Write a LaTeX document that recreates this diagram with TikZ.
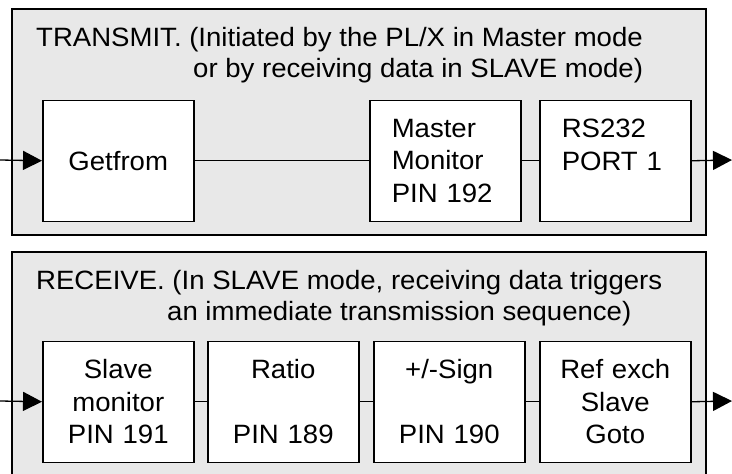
\documentclass[tikz,border=0pt]{standalone}
\usepackage{fontspec}
\setmainfont{Liberation Sans}[FakeStretch=1.04]
\usetikzlibrary{arrows.meta}
\definecolor{panelgray}{HTML}{E8E8E8}
\tikzset{
  panel/.style={fill=panelgray, draw=black, line width=1.5pt},
  blk/.style={draw=black, fill=white, line width=1.5pt, minimum width=151pt, minimum height=121pt,
    anchor=north west, inner sep=0pt, font=\fontsize{26.5}{32.5}\selectfont},
  blkl/.style={blk, align=left, text width=107pt},
  blkc/.style={blk, align=center, text width=140pt},
  hdr/.style={anchor=base west, inner sep=0pt, font=\fontsize{26.5}{31}\selectfont},
  conn/.style={draw=black, line width=1.3pt},
  arr/.style={conn, -{Triangle[length=19pt,width=19pt]}}
}
\begin{document}
\begin{tikzpicture}[x=1pt,y=-1pt]
\useasboundingbox (0,0) rectangle (732,474);
% panels
\fill[panelgray] (12,9) rectangle (706,235);
\draw[line width=1.5pt] (12,9) rectangle (706,235);
\fill[panelgray] (12,252) rectangle (706,480);
\draw[line width=1.5pt] (12,480) -- (12,252) -- (706,252) -- (706,480);
% headers
\node[hdr] (h1) at (36,46.7) {TRANSMIT. (Initiated by the PL/X in Master mode};
\node[hdr] (h2) at (193,77) {or by receiving data in SLAVE mode)};
\node[hdr] (h3) at (36,289) {RECEIVE. (In SLAVE mode, receiving data triggers};
\node[hdr] (h4) at (167,320) {an immediate transmission sequence)};
% transmit boxes
\node[blk] (get) at (42,99.5) {Getfrom};
\node[blkl] (mm) at (369,99.5) {Master\\Monitor\\PIN 192};
\node[blkl] (rs) at (539,99.5) {RS232\\PORT 1\\\mbox{}};
\coordinate (tin) at (0,160);
\coordinate (tout) at (732,160);
\draw[arr] (tin) -- (get.west);
\draw[conn] (get.east) -- (mm.west);
\draw[conn] (mm.east) -- (rs.west);
\draw[arr] (rs.east) -- (tout);
% receive boxes
\node[blkc] (sm) at (42,340.5) {Slave\\monitor\\PIN 191};
\node[blkc] (ra) at (207,340.5) {Ratio\\\mbox{}\\PIN 189};
\node[blkc] (sg) at (373,340.5) {+/-Sign\\\mbox{}\\PIN 190};
\node[blkc] (rf) at (539,340.5) {Ref exch\\Slave\\Goto};
\coordinate (rin) at (0,401);
\coordinate (rout) at (732,401);
\draw[arr] (rin) -- (sm.west);
\draw[conn] (sm.east) -- (ra.west);
\draw[conn] (ra.east) -- (sg.west);
\draw[conn] (sg.east) -- (rf.west);
\draw[arr] (rf.east) -- (rout);
\end{tikzpicture}
\end{document}
